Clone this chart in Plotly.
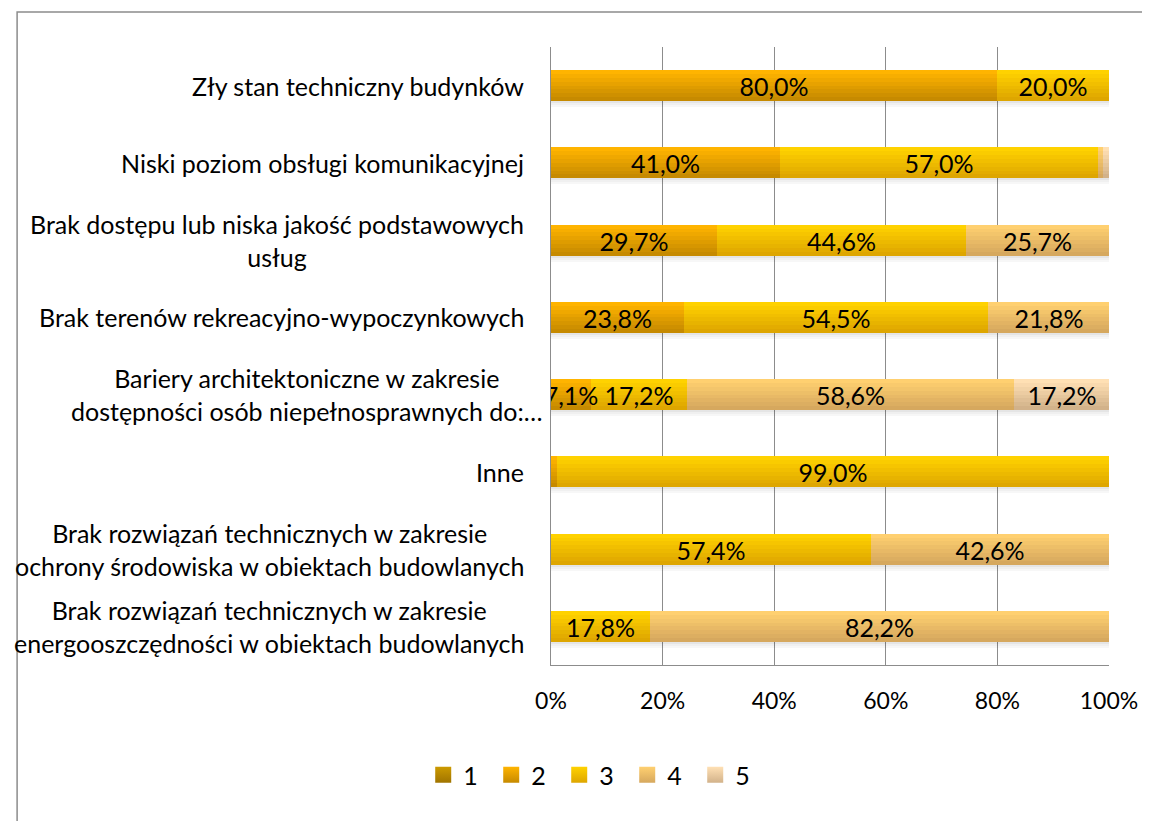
import plotly.graph_objects as go

categories = [
    "Zły stan techniczny budynków",
    "Niski poziom obsługi komunikacyjnej",
    "Brak dostępu lub niska jakość podstawowych usług",
    "Brak terenów rekreacyjno-wypoczynkowych",
    "Bariery architektoniczne w zakresie dostępności osób niepełnosprawnych do:…",
    "Inne",
    "Brak rozwiązań technicznych w zakresie ochrony środowiska w obiektach budowlanych",
    "Brak rozwiązań technicznych w zakresie energooszczędności w obiektach budowlanych",
]
category_labels = [
    "Zły stan techniczny budynków",
    "Niski poziom obsługi komunikacyjnej",
    "Brak dostępu lub niska jakość podstawowych<br>usług",
    "Brak terenów rekreacyjno-wypoczynkowych",
    "Bariery architektoniczne w zakresie<br>dostępności osób niepełnosprawnych do:…",
    "Inne",
    "Brak rozwiązań technicznych w zakresie<br>ochrony środowiska w obiektach budowlanych",
    "Brak rozwiązań technicznych w zakresie<br>energooszczędności w obiektach budowlanych",
]
series_names = ["1", "2", "3", "4", "5"]
s1 = [0, 0, 0, 0, 0, 0, 0, 0]
s2 = [80.0, 41.0, 29.7, 23.8, 7.1, 1.0, 0, 0]
s3 = [20.0, 57.0, 44.6, 54.5, 17.2, 99.0, 57.4, 17.8]
s4 = [0, 1.0, 25.7, 21.8, 58.6, 0, 42.6, 82.2]
s5 = [0, 1.0, 0, 0, 17.2, 0, 0, 0]
series = [s1, s2, s3, s4, s5]
x_tick_vals = [0, 20, 40, 60, 80, 100]
x_tick_text = ["0%", "20%", "40%", "60%", "80%", "100%"]

colors_top = ["#CC9A00", "#FFB400", "#FFD200", "#FFD070", "#FFE0B4"]
colors_bot = ["#A07400", "#C68A00", "#DEA600", "#D6A85E", "#D2B28A"]

FONT = "Lato"
BAR_W = 0.40
N = 8
GRID = "#8c8c8c"


def hex2rgb(h):
    h = h.lstrip("#")
    return [int(h[i:i + 2], 16) for i in (0, 2, 4)]


def interp(c1, c2, t):
    a, b = hex2rgb(c1), hex2rgb(c2)
    return "rgb(%d,%d,%d)" % tuple(round(a[i] + (b[i] - a[i]) * t) for i in range(3))


fig = go.Figure()

# soft shadow under bars
totals = [sum(v) for v in zip(*series)]
for j, a in enumerate([0.10, 0.06, 0.03]):
    fig.add_bar(y=categories, x=totals, base=[0] * len(categories), orientation="h",
                width=0.026, offset=BAR_W / 2 + j * 0.026,
                marker=dict(color="rgba(0,0,0,%s)" % a, line=dict(width=0)),
                showlegend=False, hoverinfo="skip")

cum = [0.0] * len(categories)
bases = []
for si, vals in enumerate(series):
    bases.append(list(cum))
    for k in range(N):
        t = k / (N - 1)
        fig.add_bar(
            y=categories, x=vals, base=list(cum), orientation="h",
            width=BAR_W / N + 0.002, offset=-BAR_W / 2 + k * BAR_W / N,
            marker=dict(color=interp(colors_top[si], colors_bot[si], t), line=dict(width=0)),
            name=series_names[si], showlegend=False, hoverinfo="skip",
        )
    cum = [c + v for c, v in zip(cum, vals)]

# data labels
for si, vals in enumerate(series):
    texts = [("%.1f%%" % v).replace(".", ",") if v >= 5 else "" for v in vals]
    fig.add_bar(
        y=categories, x=vals, base=bases[si], orientation="h",
        width=BAR_W, offset=-BAR_W / 2,
        marker=dict(color="rgba(0,0,0,0)", line=dict(width=0)),
        text=texts, textposition="inside", insidetextanchor="middle",
        constraintext="none", textangle=0,
        insidetextfont=dict(family=FONT, size=25, color="#000000"),
        showlegend=False, hoverinfo="skip",
    )

# legend entries (gradient squares)
for si, name in enumerate(series_names):
    fig.add_scatter(
        x=[None], y=[None], mode="markers", name=name,
        marker=dict(symbol="square", size=16, color=colors_top[si],
                    gradient=dict(type="vertical", color=colors_bot[si]),
                    line=dict(width=0)),
        hoverinfo="skip",
    )

annotations = []
for cat, lab in zip(categories, category_labels):
    annotations.append(dict(
        x=0, xref="paper", y=cat, yref="y", text=lab, showarrow=False,
        xanchor="right", yanchor="middle", align="center",
        xshift=-6.5 if "Bariery" in cat else -25.5,
        font=dict(family=FONT, size=25, color="#000000"),
    ))

fig.update_layout(
    width=1142, height=813,
    margin=dict(l=543, r=32, t=39, b=156),
    barmode="overlay",
    bargap=0,
    plot_bgcolor="white", paper_bgcolor="white",
    font=dict(family=FONT, size=23, color="#000000"),
    xaxis=dict(range=[0, 100], tickvals=x_tick_vals, ticktext=x_tick_text,
               showgrid=True, gridcolor=GRID, gridwidth=1,
               showline=True, linecolor=GRID, linewidth=1, zeroline=False,
               ticks="", ticklabelstandoff=15,
               tickfont=dict(family=FONT, size=23, color="#000000"), fixedrange=True),
    yaxis=dict(categoryorder="array", categoryarray=categories,
               range=[len(categories) - 0.5, -0.5],
               showticklabels=False, showgrid=False, zeroline=False,
               showline=True, linecolor=GRID, linewidth=1, fixedrange=True),
    legend=dict(orientation="h", x=-0.229, xanchor="left", y=-0.178, yanchor="middle",
                entrywidth=23, entrywidthmode="pixels",
                font=dict(family=FONT, size=25, color="#000000"),
                bgcolor="rgba(0,0,0,0)"),
    annotations=annotations,
    shapes=[dict(type="rect", xref="paper", yref="paper",
                 x0=-0.9568, x1=1.2, y0=-0.4, y1=1.0566,
                 line=dict(color="#8c8c8c", width=1.5), layer="below")],
    showlegend=True,
)

fig.write_html("out.html")
